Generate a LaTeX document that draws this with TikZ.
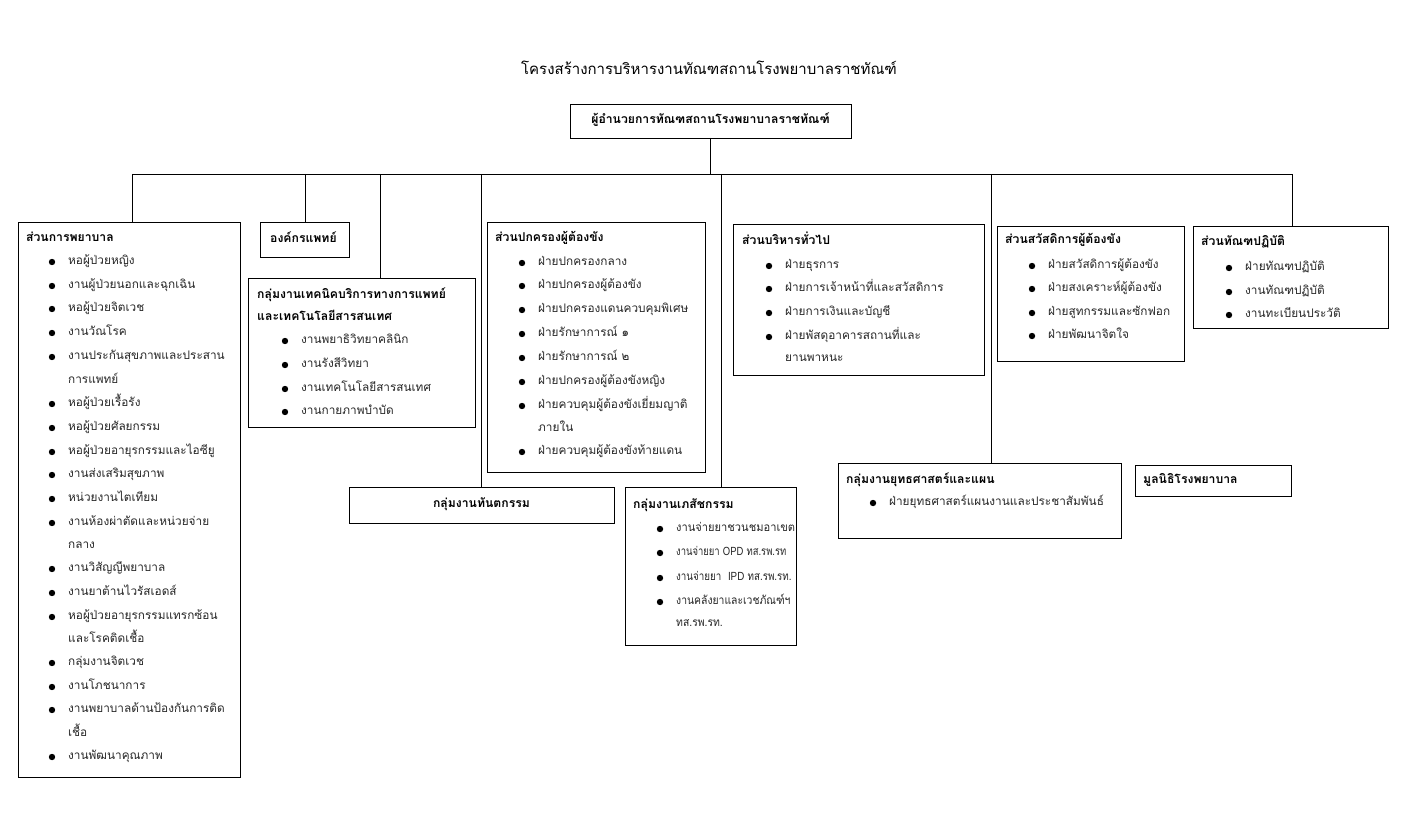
\documentclass[tikz,border=0pt]{standalone}
\usepackage{fontspec}
\newfontfamily\thai[Script=Thai]{Loma}
\newfontfamily\latn{Liberation Sans}
\begin{document}
\begin{tikzpicture}[x=1pt,y=-1pt,
  box/.style={draw, line width=0.9pt, anchor=north west, inner sep=0pt, outer sep=0pt},
  hd/.style={anchor=west, font=\thai\bfseries\fontsize{12.2}{14}\selectfont, inner sep=0pt, text height=8pt, text depth=3pt},
  it/.style={anchor=west, font=\thai\fontsize{11.8}{14}\selectfont, inner sep=0pt, text height=8pt, text depth=3pt, text=black!85},
  conn/.style={line width=0.9pt}]
\useasboundingbox (0,0) rectangle (1413,813);
\newcommand\bitem[4]{\fill (#2-16,#3) circle (3.2pt); \node[it] (#1) at (#2,#3) {#4};}
\newcommand\cont[4]{\node[it] (#1) at (#2,#3) {#4};}

% title
\node[anchor=center, font=\thai\fontsize{15}{17}\selectfont, inner sep=0pt] (title) at (709,68) {โครงสร้างการบริหารงานทัณฑสถานโรงพยาบาลราชทัณฑ์};

% top box
\node[box, minimum width=281pt, minimum height=34pt] (top) at (570,104) {};
\node[hd, anchor=center] (toptxt) at (top.center) {ผู้อำนวยการทัณฑสถานโรงพยาบาลราชทัณฑ์};

% boxes
\node[box, minimum width=222pt, minimum height=555pt] (nurse) at (18,222) {};
\node[box, minimum width=89pt, minimum height=35pt] (org) at (260,222) {};
\node[box, minimum width=227pt, minimum height=149pt] (tech) at (248,278) {};
\node[box, minimum width=218pt, minimum height=250pt] (gov) at (487,222) {};
\node[box, minimum width=265pt, minimum height=36pt] (dent) at (349,487) {};
\node[box, minimum width=171pt, minimum height=158pt] (pharm) at (625,487) {};
\node[box, minimum width=251pt, minimum height=151pt] (admin) at (733,224) {};
\node[box, minimum width=187pt, minimum height=135pt] (welf) at (997,226) {};
\node[box, minimum width=195pt, minimum height=102pt] (pen) at (1193,226) {};
\node[box, minimum width=283pt, minimum height=75pt] (strat) at (838,463) {};
\node[box, minimum width=156pt, minimum height=31pt] (found) at (1135,465) {};

% connectors
\coordinate (busl) at (132,174);
\coordinate (busr) at (1292,174);
\coordinate (b1) at (305,174);
\coordinate (b2) at (380,174);
\coordinate (b3) at (481,174);
\coordinate (b4) at (721,174);
\coordinate (b5) at (991,174);
\draw[conn] (top.south) -- (top.south |- busl);
\draw[conn] (busl) -- (busr);
\draw[conn] (busl) -- (busl |- nurse.north);
\draw[conn] (b1) -- (b1 |- org.north);
\draw[conn] (b2) -- (b2 |- tech.north);
\draw[conn] (b3) -- (b3 |- dent.north);
\draw[conn] (b4) -- (b4 |- pharm.north);
\draw[conn] (b5) -- (b5 |- strat.north);
\draw[conn] (busr) -- (busr |- pen.north);

% nurse box
\node[hd] (nh) at (26,239) {ส่วนการพยาบาล};
\bitem{n1}{68}{262}{หอผู้ป่วยหญิง}
\bitem{n2}{68}{286}{งานผู้ป่วยนอกและฉุกเฉิน}
\bitem{n3}{68}{309}{หอผู้ป่วยจิตเวช}
\bitem{n4}{68}{333}{งานวัณโรค}
\bitem{n5}{68}{357}{งานประกันสุขภาพและประสาน}
\cont{n5b}{68}{381}{การแพทย์}
\bitem{n6}{68}{404}{หอผู้ป่วยเรื้อรัง}
\bitem{n7}{68}{428}{หอผู้ป่วยศัลยกรรม}
\bitem{n8}{68}{452}{หอผู้ป่วยอายุรกรรมและไอซียู}
\bitem{n9}{68}{475}{งานส่งเสริมสุขภาพ}
\bitem{n10}{68}{499}{หน่วยงานไตเทียม}
\bitem{n11}{68}{523}{งานห้องผ่าตัดและหน่วยจ่าย}
\cont{n11b}{68}{546}{กลาง}
\bitem{n12}{68}{569}{งานวิสัญญีพยาบาล}
\bitem{n13}{68}{593}{งานยาต้านไวรัสเอดส์}
\bitem{n14}{68}{617}{หอผู้ป่วยอายุรกรรมแทรกซ้อน}
\cont{n14b}{68}{640}{และโรคติดเชื้อ}
\bitem{n15}{68}{663}{กลุ่มงานจิตเวช}
\bitem{n16}{68}{687}{งานโภชนาการ}
\bitem{n17}{68}{710}{งานพยาบาลด้านป้องกันการติด}
\cont{n17b}{68}{734}{เชื้อ}
\bitem{n18}{68}{757}{งานพัฒนาคุณภาพ}

% org
\node[hd] (oh) at (270,240) {องค์กรแพทย์};

% tech
\node[hd] (th1) at (257,296) {กลุ่มงานเทคนิคบริการทางการแพทย์};
\node[hd] (th2) at (257,318) {และเทคโนโลยีสารสนเทศ};
\bitem{t1}{301}{341}{งานพยาธิวิทยาคลินิก}
\bitem{t2}{301}{365}{งานรังสีวิทยา}
\bitem{t3}{301}{389}{งานเทคโนโลยีสารสนเทศ}
\bitem{t4}{301}{412}{งานกายภาพบำบัด}

% gov
\node[hd] (gh) at (495,239) {ส่วนปกครองผู้ต้องขัง};
\bitem{g1}{538}{263}{ฝ่ายปกครองกลาง}
\bitem{g2}{538}{286}{ฝ่ายปกครองผู้ต้องขัง}
\bitem{g3}{538}{310}{ฝ่ายปกครองแดนควบคุมพิเศษ}
\bitem{g4}{538}{334}{ฝ่ายรักษาการณ์ ๑}
\bitem{g5}{538}{358}{ฝ่ายรักษาการณ์ ๒}
\bitem{g6}{538}{382}{ฝ่ายปกครองผู้ต้องขังหญิง}
\bitem{g7}{538}{406}{ฝ่ายควบคุมผู้ต้องขังเยี่ยมญาติ}
\cont{g7b}{538}{429}{ภายใน}
\bitem{g8}{538}{452}{ฝ่ายควบคุมผู้ต้องขังท้ายแดน}

% dent
\node[hd, anchor=center] (dh) at (dent.center) {กลุ่มงานทันตกรรม};

% pharm
\node[hd] (ph) at (633,506) {กลุ่มงานเภสัชกรรม};
\bitem{p1}{676}{529}{\scalebox{0.94}[1]{งานจ่ายยาชวนชมอาเขต}}
\bitem{p2}{676}{553}{\scalebox{0.8}[1]{งานจ่ายยา {\latn OPD} ทส.รพ.รท}}
\bitem{p3}{676}{578}{\scalebox{0.83}[1]{งานจ่ายยา \ {\latn IPD} ทส.รพ.รท.}}
\bitem{p4}{676}{602}{\scalebox{0.88}[1]{งานคลังยาและเวชภัณฑ์ฯ}}
\cont{p4b}{676}{624}{\scalebox{0.88}[1]{ทส.รพ.รท.}}

% admin
\node[hd] (ah) at (742,242) {ส่วนบริหารทั่วไป};
\bitem{a1}{785}{266}{ฝ่ายธุรการ}
\bitem{a2}{785}{289}{ฝ่ายการเจ้าหน้าที่และสวัสดิการ}
\bitem{a3}{785}{313}{ฝ่ายการเงินและบัญชี}
\bitem{a4}{785}{337}{ฝ่ายพัสดุอาคารสถานที่และ}
\cont{a4b}{785}{359}{ยานพาหนะ}

% welfare
\node[hd] (wh) at (1005,241) {ส่วนสวัสดิการผู้ต้องขัง};
\bitem{w1}{1048}{266}{ฝ่ายสวัสดิการผู้ต้องขัง}
\bitem{w2}{1048}{289}{ฝ่ายสงเคราะห์ผู้ต้องขัง}
\bitem{w3}{1048}{313}{ฝ่ายสูทกรรมและซักฟอก}
\bitem{w4}{1048}{336}{ฝ่ายพัฒนาจิตใจ}

% penal
\node[hd] (eh) at (1201,243) {ส่วนทัณฑปฏิบัติ};
\bitem{e1}{1245}{268}{ฝ่ายทัณฑปฏิบัติ}
\bitem{e2}{1245}{292}{งานทัณฑปฏิบัติ}
\bitem{e3}{1245}{315}{งานทะเบียนประวัติ}

% strategy
\node[hd] (sh) at (846,481) {กลุ่มงานยุทธศาสตร์และแผน};
\bitem{s1}{889}{503}{ฝ่ายยุทธศาสตร์แผนงานและประชาสัมพันธ์}

% foundation
\node[hd] (fh) at (1143,481) {มูลนิธิโรงพยาบาล};
\end{tikzpicture}
\end{document}
